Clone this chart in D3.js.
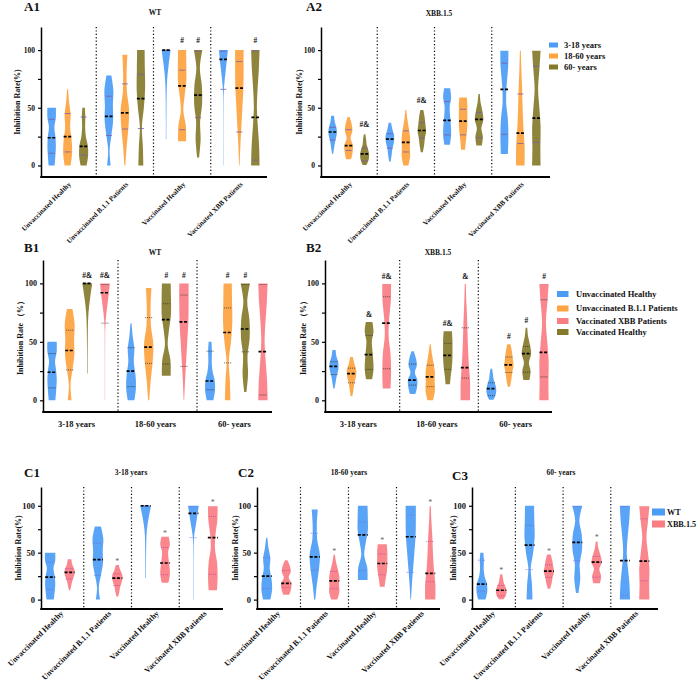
<!DOCTYPE html>
<html>
<head>
<meta charset="utf-8">
<script src="https://cdn.jsdelivr.net/npm/d3@7"></script>
<style>
  body { margin: 0; background: #fff; }
  text { font-family: "Liberation Serif", "Times New Roman", serif; font-weight: bold; fill: #111; }
</style>
</head>
<body>
<svg id="fig" width="697" height="687"></svg>
<script>
const statuses = ["Unvaccinated Healthy", "Unvaccinated B.1.1 Patients", "Vaccinated Healthy", "Vaccinated XBB Patients"];
const ages = ["3-18 years", "18-60 years", "60- years"];
const variants = ["WT", "XBB.1.5"];

// [status, age, min, q1, median, q3, max]  (inhibition rate, %)
const wtStats = [
  [0, 0, 0, 10.6, 24, 40, 50],
  [0, 1, 0, 11.7, 25, 45, 66],
  [0, 2, 0, 9, 16.5, 42, 50],
  [1, 0, 0, 26, 42.6, 60, 78],
  [1, 1, 0, 31.6, 45.5, 70.7, 96],
  [1, 2, 0, 32, 58, 79, 100],
  [2, 0, 23, 99.5, 100, 100, 100],
  [2, 1, 21, 31, 69, 82.6, 100],
  [2, 2, 7, 41.5, 61, 99, 100],
  [3, 0, 0, 66, 92, 99, 100],
  [3, 1, 0, 29, 67, 90, 100],
  [3, 2, 0, 4.6, 41.6, 99, 100]
];
const xbbStats = [
  [0, 0, 10, 22, 29, 33, 43],
  [0, 1, 5.3, 13, 17.2, 31, 42],
  [0, 2, 0.5, 4, 10, 15, 27],
  [1, 0, 3.4, 15, 22.8, 27.5, 37],
  [1, 1, 0, 11.7, 20, 30, 48],
  [1, 2, 11.5, 23.8, 30.3, 37, 48],
  [2, 0, 18, 26.5, 39, 55.5, 67],
  [2, 1, 13.7, 26.5, 38.5, 48.7, 59],
  [2, 2, 17.4, 24, 40, 46, 62],
  [3, 0, 10, 27, 66, 88.6, 99.5],
  [3, 1, 0, 19, 28, 62, 99.5],
  [3, 2, 0, 20, 41, 86, 99.5]
];

// violin widths, from min (first) to max (last), same row order as above
const wtShape = [
  [0.6, 0.75, 0.85, 0.75, 0.55, 0.85, 0.85],
  [0.6, 0.9, 0.8, 0.5, 0.6, 0.3, 0.1],
  [0.6, 0.9, 0.85, 0.45, 0.3, 0.35, 0.25],
  [0.35, 0.15, 0.5, 0.85, 0.8, 0.9, 0.5],
  [0.1, 0.35, 0.7, 0.85, 0.4, 0.35, 0.5],
  [0.5, 0.4, 0.2, 0.6, 0.85, 0.8, 0.75],
  [0.05, 0.05, 0.07, 0.1, 0.2, 0.5, 0.9],
  [0.8, 0.75, 0.25, 0.5, 0.85, 0.85, 0.8],
  [0.2, 0.5, 0.4, 0.8, 0.75, 0.35, 0.85],
  [0.03, 0.03, 0.03, 0.04, 0.1, 0.5, 0.9],
  [0.05, 0.2, 0.4, 0.6, 0.8, 0.85, 0.85],
  [0.85, 0.75, 0.5, 0.3, 0.45, 0.7, 0.85]
];
const xbbShape = [
  [0.1, 0.3, 0.5, 0.8, 0.8, 0.45, 0.3],
  [0.5, 0.8, 0.85, 0.4, 0.75, 0.6, 0.2],
  [0.4, 0.8, 0.9, 0.7, 0.4, 0.3, 0.15],
  [0.15, 0.35, 0.5, 0.8, 0.85, 0.5, 0.25],
  [0.5, 0.85, 0.8, 0.85, 0.6, 0.3, 0.1],
  [0.2, 0.45, 0.6, 0.85, 0.7, 0.55, 0.3],
  [0.55, 0.8, 0.75, 0.6, 0.5, 0.8, 0.6],
  [0.4, 0.55, 0.75, 0.85, 0.85, 0.85, 0.75],
  [0.55, 0.75, 0.45, 0.85, 0.65, 0.3, 0.15],
  [0.7, 0.8, 0.7, 0.35, 0.45, 0.75, 0.8],
  [0.85, 0.85, 0.6, 0.45, 0.35, 0.2, 0.1],
  [0.85, 0.8, 0.85, 0.6, 0.35, 0.6, 0.85]
];

// significance marks: [status, age, text]
const marksA1 = [[2, 1, "#"], [2, 2, "#"], [3, 2, "#"]];
const marksA2 = [[0, 2, "#&"], [1, 2, "#&"]];
const marksB1 = [[2, 0, "#&"], [3, 0, "#&"], [2, 1, "#"], [3, 1, "#"], [1, 2, "#"], [2, 2, "#"]];
const marksB2 = [[2, 0, "&"], [3, 0, "#&"], [2, 1, "#&"], [3, 1, "&"], [1, 2, "#"], [2, 2, "#"], [3, 2, "#"]];
// statuses with "*" on XBB.1.5, one list per age
const starsC = [[1, 2, 3], [1, 2, 3], [0, 1, 2]];

const ageColors = ["#4b9cf5", "#fda33f", "#857a2a"];
const statusColors = ["#4b9cf5", "#fda33f", "#857a2a", "#fa7d84"];
const variantColors = ["#4b9cf5", "#fa7d84"];

const svg = d3.select("#fig");

function distOf(v, s, a) {
  const rows = v === 0 ? wtStats : xbbStats;
  const shapes = v === 0 ? wtShape : xbbShape;
  const i = rows.findIndex(r => r[0] === s && r[1] === a);
  const r = rows[i];
  return { min: r[2], q1: r[3], med: r[4], q3: r[5], max: r[6], shape: shapes[i] };
}

function drawPanel(p) {
  const g = svg.append("g");
  const y = d3.scaleLinear().domain([-10, 120]).range([p.yBottom, p.yTop]);
  const gx = d3.scaleBand().domain(d3.range(p.groups.length)).range(p.band);
  const sx = d3.scalePoint().domain(d3.range(p.nSub)).range([0, gx.bandwidth()]).padding(p.subPad);

  // dotted group dividers
  g.selectAll("line.div").data(d3.range(1, p.groups.length)).join("line")
    .attr("class", "div")
    .attr("x1", i => gx(i)).attr("x2", i => gx(i))
    .attr("y1", p.yTop).attr("y2", p.yBottom)
    .attr("stroke", "#000").attr("stroke-width", 1.2).attr("stroke-dasharray", "1.2,2.2");

  const area = d3.area().curve(d3.curveCatmullRom.alpha(0.5));
  p.items.forEach(it => {
    const d = distOf(it.v, it.s, it.a);
    const cx = gx(it.group) + sx(it.sub);
    const n = d.shape.length - 1;
    const pts = d.shape.map((w, i) => [d.min + (d.max - d.min) * i / n, w]);
    area.y(e => y(e[0])).x0(e => cx - e[1] * p.half).x1(e => cx + e[1] * p.half);
    g.append("path").attr("d", area(pts)).attr("fill", it.color).attr("fill-opacity", 0.92);

    [d.q1, d.q3].forEach(q => {
      g.append("line")
        .attr("x1", cx - p.qHalf).attr("x2", cx + p.qHalf)
        .attr("y1", y(q)).attr("y2", y(q))
        .attr("stroke", p.qColor(it)).attr("stroke-width", 0.8)
        .attr("stroke-dasharray", p.qDash);
    });
    g.append("line")
      .attr("x1", cx - p.medHalf).attr("x2", cx + p.medHalf)
      .attr("y1", y(d.med)).attr("y2", y(d.med))
      .attr("stroke", "#000").attr("stroke-width", 1.7).attr("stroke-dasharray", "3,1.6");

    const m = p.mark(it);
    if (m) {
      g.append("text")
        .attr("x", cx).attr("y", y(d.max) - p.markOff)
        .attr("text-anchor", "middle")
        .style("font-size", p.markSize + "px")
        .style("font-weight", m === "*" ? "normal" : "bold")
        .style("fill", m === "*" ? "#666" : "#111")
        .text(m);
    }
  });

  // y axis
  const ya = g.append("g").attr("transform", `translate(${p.axisX},0)`)
    .call(d3.axisLeft(y).tickValues([0, 25, 50, 75, 100]).tickSize(3).tickSizeOuter(0)
      .tickFormat(d => d % 50 ? "" : d));
  ya.select(".domain").attr("stroke-width", 1.5);
  ya.selectAll(".tick line").attr("stroke-width", 1.2);
  ya.selectAll("text").style("font-size", p.tickSize + "px").style("font-family", null).attr("x", -6);

  // x axis
  g.append("line")
    .attr("x1", p.axisX - 0.75).attr("x2", p.axisEnd)
    .attr("y1", p.yBottom).attr("y2", p.yBottom)
    .attr("stroke", "#000").attr("stroke-width", 2);
  const xa = g.append("g").attr("transform", `translate(0,${p.yBottom})`)
    .call(d3.axisBottom(gx).tickSize(0).tickFormat(i => p.groups[i]));
  xa.select(".domain").remove();
  const xt = xa.selectAll("text").style("font-size", p.labelSize + "px").style("font-family", null);
  if (p.rotate) {
    xt.attr("x", 0).attr("y", 0).attr("dy", "0.35em").attr("text-anchor", "end")
      .attr("transform", `translate(2,${p.labelOff}) rotate(-45)`);
  } else {
    xt.attr("y", p.labelOff).attr("dy", "0.71em").attr("x", -2);
  }

  // y label
  g.append("text")
    .attr("transform", `translate(${p.ylabelX},${(p.yTop + p.yBottom) / 2}) rotate(-90)`)
    .attr("text-anchor", "middle").attr("dy", "0.35em")
    .style("font-size", "8px")
    .text(p.ylabel);

  // titles
  g.append("text").attr("x", p.title[1]).attr("y", p.title[2])
    .style("font-size", "13px").text(p.title[0]);
  g.append("text").attr("x", p.sub[1]).attr("y", p.sub[2])
    .attr("text-anchor", "middle").style("font-size", p.subSize + "px").text(p.sub[0]);

  if (p.legend) {
    const L = p.legend;
    L.labels.forEach((lab, i) => {
      g.append("rect").attr("x", L.x).attr("y", L.ys[i] - L.h / 2)
        .attr("width", L.w).attr("height", L.h).attr("fill", L.colors[i]);
      g.append("text").attr("x", L.textX).attr("y", L.ys[i]).attr("dy", "0.35em")
        .style("font-size", L.size + "px").text(lab);
    });
  }
}

function markFrom(list) {
  return it => {
    const f = list.find(m => m[0] === it.s && m[1] === it.a);
    return f ? f[2] : null;
  };
}

function itemsA(v) {
  const out = [];
  statuses.forEach((_, s) => ages.forEach((_, a) =>
    out.push({ group: s, sub: a, v, s, a, color: ageColors[a] })));
  return out;
}
function itemsB(v) {
  const out = [];
  ages.forEach((_, a) => statuses.forEach((_, s) =>
    out.push({ group: a, sub: s, v, s, a, color: statusColors[s] })));
  return out;
}
function itemsC(a) {
  const out = [];
  statuses.forEach((_, s) => variants.forEach((_, v) =>
    out.push({ group: s, sub: v, v, s, a, color: variantColors[v] })));
  return out;
}

const baseA = {
  yTop: 27, yBottom: 177, groups: statuses, nSub: 3, subPad: 0.79,
  half: 5, medHalf: 4, qHalf: 3, qDash: null, qColor: () => "#7a5ca8",
  markOff: 7, markSize: 7.5, tickSize: 7.5, labelSize: 7, rotate: true, labelOff: 6,
  ylabel: "Inhibition Rate(%)", subSize: 7.5
};
drawPanel(Object.assign({}, baseA, {
  axisX: 41, axisEnd: 267, band: [39, 268], ylabelX: 17,
  items: itemsA(0), mark: markFrom(marksA1), title: ["A1", 24, 11], sub: [variants[0], 155, 15]
}));
drawPanel(Object.assign({}, baseA, {
  axisX: 321, axisEnd: 550, band: [320, 549], ylabelX: 299,
  items: itemsA(1), mark: markFrom(marksA2), title: ["A2", 306, 11], sub: [variants[1], 439, 15.5],
  legend: { x: 549, w: 9, h: 5, textX: 564, size: 8.5, ys: [45, 56, 67], labels: ages, colors: ageColors }
}));

const baseB = {
  yTop: 260, yBottom: 412, groups: ages, nSub: 4, subPad: 0.74,
  half: 5.5, medHalf: 4.5, qHalf: 3.5, qDash: "1,1", qColor: () => "#333",
  markOff: 5, markSize: 7.5, tickSize: 8, labelSize: 8.5, rotate: false, labelOff: 9,
  ylabel: "Inhibition Rate （%）", subSize: 7.5
};
drawPanel(Object.assign({}, baseB, {
  axisX: 43, axisEnd: 272, band: [39, 276], ylabelX: 20,
  items: itemsB(0), mark: markFrom(marksB1), title: ["B1", 24, 252], sub: [variants[0], 155, 255]
}));
drawPanel(Object.assign({}, baseB, {
  axisX: 325, axisEnd: 552, band: [321, 557], ylabelX: 303,
  items: itemsB(1), mark: markFrom(marksB2), title: ["B2", 306, 252], sub: [variants[1], 438, 255],
  legend: { x: 557, w: 11.5, h: 6, textX: 576, size: 8.5, ys: [294, 308.5, 321, 332],
    labels: [statuses[0], statuses[1], statuses[3], statuses[2]],
    colors: [statusColors[0], statusColors[1], statusColors[3], statusColors[2]] }
}));

const baseC = {
  yTop: 487, yBottom: 609, groups: statuses, nSub: 2, subPad: 0.73,
  half: 6, medHalf: 5, qHalf: 4, qDash: "1,1",
  qColor: it => it.v === 1 ? "#c0489a" : "#6d6fd6",
  markOff: 1, markSize: 8, tickSize: 8.5, labelSize: 7.9, rotate: true, labelOff: 3,
  ylabel: "Inhibition Rate(%)", subSize: 7.5
};
const cLayout = [
  { axisX: 41, axisEnd: 223, band: [36, 227], ylabelX: 18, title: ["C1", 24, 477], subX: 131 },
  { axisX: 257, axisEnd: 440, band: [252.5, 444.5], ylabelX: 235, title: ["C2", 238, 477], subX: 349 },
  { axisX: 472, axisEnd: 658, band: [467.7, 658.5], ylabelX: 453, title: ["C3", 452, 480], subX: 561 }
];
cLayout.forEach((c, a) => {
  drawPanel(Object.assign({}, baseC, c, {
    items: itemsC(a),
    mark: it => (it.v === 1 && starsC[a].includes(it.s)) ? "*" : null,
    sub: [ages[a], c.subX, 475],
    legend: a === 2 ? { x: 652, w: 13, h: 7, textX: 667, size: 8.2, ys: [512, 524], labels: variants, colors: variantColors } : null
  }));
});
</script>
</body>
</html>
